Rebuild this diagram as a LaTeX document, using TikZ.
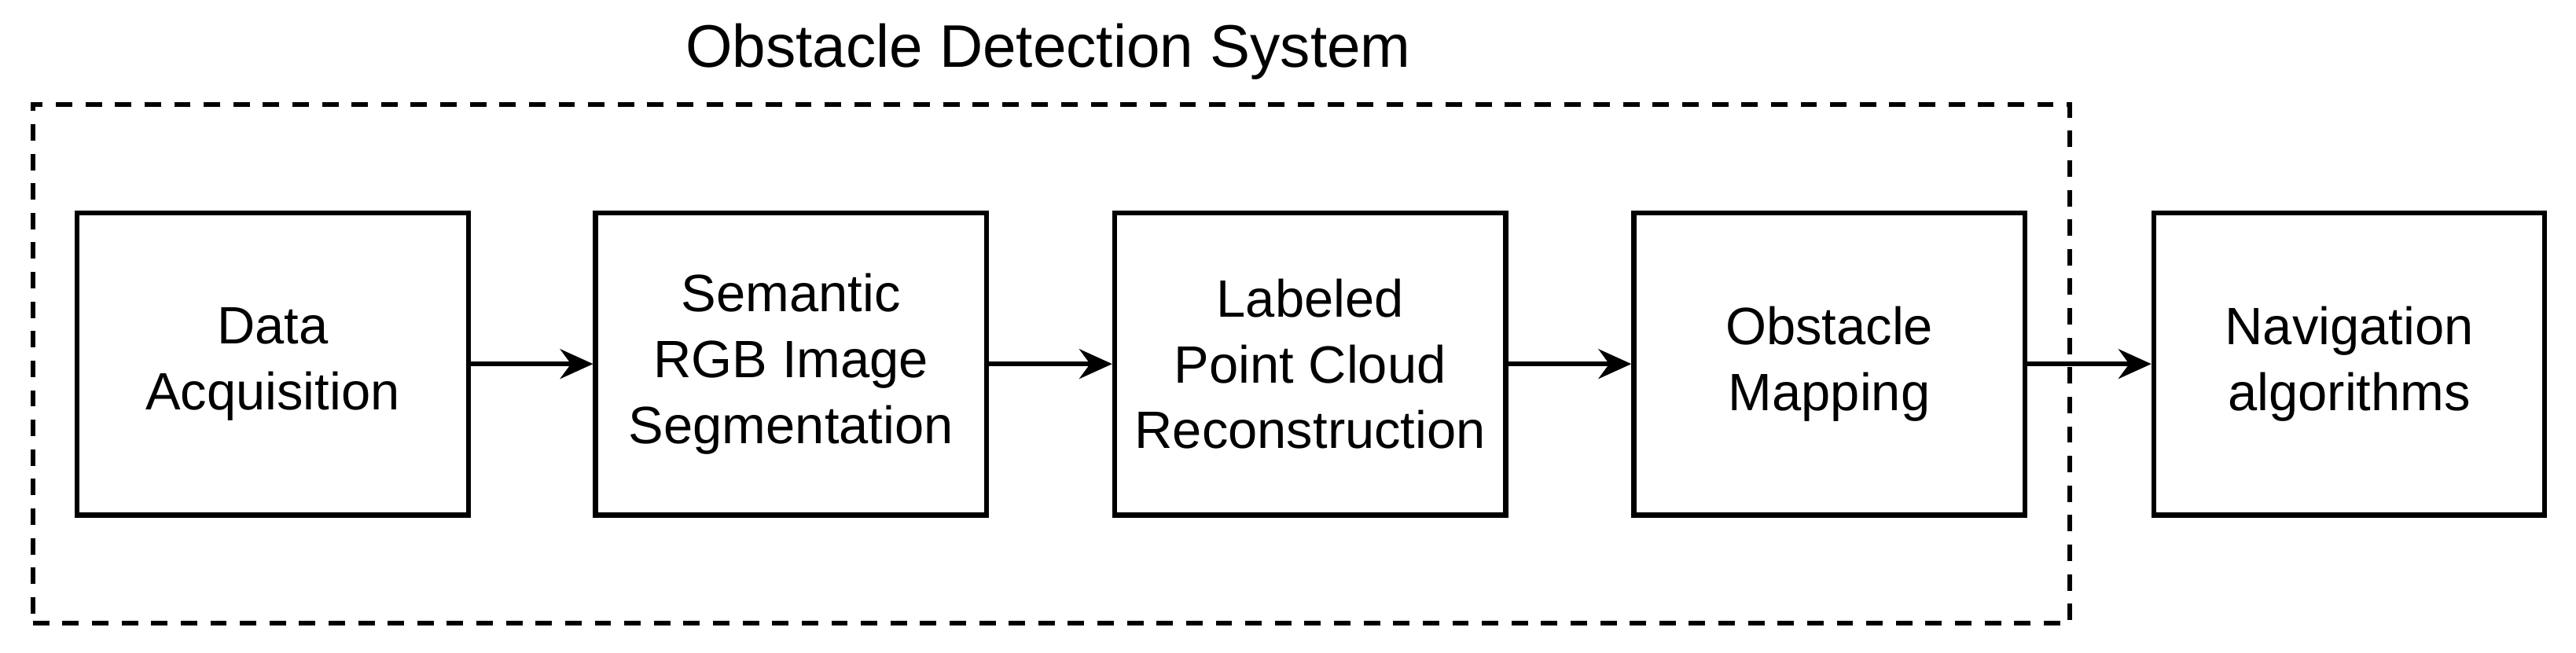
\documentclass[tikz,border=0pt]{standalone}
\usepackage{fontspec}
\setmainfont{Liberation Sans}
\usetikzlibrary{arrows.meta}

\tikzset{
  stage/.style={draw, line width=1.5pt, minimum width=119pt, minimum height=92pt,
    align=center, font=\fontsize{16}{20}\selectfont, inner sep=0pt},
  flow/.style={line width=1.5pt, -{Stealth[length=10pt,width=9pt]}},
  frame/.style={draw, line width=1.5pt, dash pattern=on 5pt off 4pt,
    minimum width=620pt, minimum height=158pt, inner sep=0pt}
}

\begin{document}
\begin{tikzpicture}[x=0.5pt, y=0.5pt]
  \useasboundingbox (0,0) rectangle (1568,397.6);
  % system frame
  \node[frame] (sys) at (640,176) {};
  \node[font=\fontsize{18.3}{20}\selectfont] (title) at (638,366) {Obstacle Detection System};
  % stages
  \node[stage] (acq) at (166,176) {Data\\Acquisition};
  \node[stage] (seg) at (481.5,176) {Semantic\\RGB Image\\Segmentation};
  \node[stage] (pcl) at (797.5,176) {Labeled\\Point Cloud\\Reconstruction};
  \node[stage] (map) at (1113.5,176) {Obstacle\\Mapping};
  \node[stage] (nav) at (1430,176) {Navigation\\algorithms};
  % connectors
  \draw[flow] (acq) -- (seg);
  \draw[flow] (seg) -- (pcl);
  \draw[flow] (pcl) -- (map);
  \draw[flow] (map) -- (nav);
\end{tikzpicture}
\end{document}
